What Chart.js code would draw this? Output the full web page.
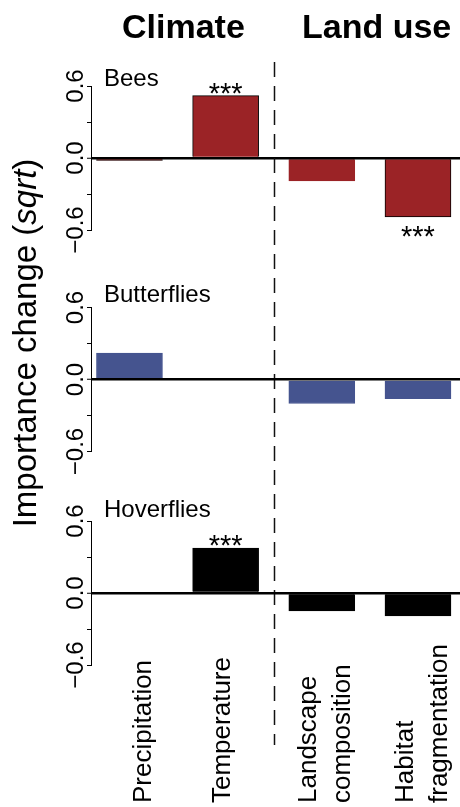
<!DOCTYPE html>
<html>
<head>
<meta charset="utf-8">
<script src="https://cdn.jsdelivr.net/npm/chart.js@4"></script>
<style>
body{margin:0;background:#fff;}
#wrap{position:relative;width:460px;height:807px;overflow:hidden;background:#fff;}
#wrap canvas{position:absolute;left:0;top:0;}
</style>
</head>
<body>
<div id="wrap">
<canvas id="beesChart" width="460" height="807"></canvas>
<canvas id="butterflyChart" width="460" height="807"></canvas>
<canvas id="hoverflyChart" width="460" height="807"></canvas>
</div>
<script>
// 카테고리 / 값
const categories = [["Precipitation"], ["Temperature"], ["Landscape", "composition"], ["Habitat", "fragmentation"]];
const groups = ["Climate", "Land use"];
const tickValues = [-0.6, 0, 0.6];
const tickLabels = ["\u22120.6", "0.0", "0.6"];

const beesValues = [-0.02, 0.52, -0.19, -0.49];
const beesStars = ["", "***", "", "***"];
const butterflyValues = [0.22, 0, -0.20, -0.16];
const butterflyStars = ["", "", "", ""];
const hoverflyValues = [0, 0.375, -0.15, -0.19];
const hoverflyStars = ["", "***", "", ""];

const FONT = '"Liberation Sans", Arial, Helvetica, sans-serif';
const H = 807;
const labelShift = [22, 4, -6, -5];

let isZero = function(c){
    return c.tick && Math.abs(c.tick.value) < 1e-9;
}

// panel name, rotated y tick labels, stars
let panelText = {
    id: "panelText",
    afterDraw: function(chart, args, opts){
        let ctx = chart.ctx;
        let area = chart.chartArea;
        let y = chart.scales.y;
        ctx.save();
        ctx.fillStyle = "#000";
        ctx.textBaseline = "alphabetic";
        ctx.font = "24px " + FONT;
        ctx.textAlign = "left";
        ctx.fillText(opts.name, area.left + 13, area.top + opts.nameShift);

        ctx.font = "24px " + FONT;
        tickValues.forEach(function(v, i){
            ctx.save();
            ctx.translate(area.left - 8, y.getPixelForValue(v));
            ctx.rotate(-Math.PI / 2);
            ctx.textAlign = "center";
            ctx.fillText(tickLabels[i], 0, 0);
            ctx.restore();
        });

        ctx.font = "29px " + FONT;
        ctx.textAlign = "center";
        let bars = chart.getDatasetMeta(0).data;
        opts.stars.forEach(function(s, i){
            if(!s) return;
            let b = bars[i];
            let cy = b.y < b.base ? b.y - 10 : b.y + 12;
            ctx.fillText(s, b.x, cy + 17);
        });
        ctx.restore();
    }
};

// titles, y title, dashed divider
let decor = {
    id: "decor",
    afterDraw: function(chart){
        let ctx = chart.ctx;
        let x = chart.scales.x;
        ctx.save();
        ctx.fillStyle = "#000";
        ctx.textBaseline = "alphabetic";
        ctx.textAlign = "left";
        ctx.font = "bold 34px " + FONT;
        ctx.fillText(groups[0], 122, 38);
        ctx.fillText(groups[1], 302, 38);

        let parts = [["Importance change (", ""], ["sqrt", "italic "], [")", ""]];
        let total = 0;
        parts.forEach(function(p){
            ctx.font = p[1] + "33px " + FONT;
            total += ctx.measureText(p[0]).width;
        });
        ctx.save();
        ctx.translate(36, 343);
        ctx.rotate(-Math.PI / 2);
        let pos = -total / 2;
        parts.forEach(function(p){
            ctx.font = p[1] + "33px " + FONT;
            ctx.fillText(p[0], pos, 0);
            pos += ctx.measureText(p[0]).width;
        });
        ctx.restore();

        let dx = Math.round(x.getPixelForValue(1.5)) + 0.5;
        ctx.strokeStyle = "#111";
        ctx.lineWidth = 1.5;
        ctx.setLineDash([15, 9]);
        ctx.beginPath();
        ctx.moveTo(dx, 62);
        ctx.lineTo(dx, 745);
        ctx.stroke();
        ctx.restore();
    }
};

// category labels under the last panel
let catLabels = {
    id: "catLabels",
    afterDraw: function(chart){
        let ctx = chart.ctx;
        let x = chart.scales.x;
        ctx.save();
        ctx.fillStyle = "#000";
        ctx.font = "26px " + FONT;
        ctx.textAlign = "left";
        ctx.textBaseline = "alphabetic";
        categories.forEach(function(lines, i){
            lines.forEach(function(t, j){
                ctx.save();
                ctx.translate(x.getPixelForValue(i) + labelShift[i] + j * 34, 803);
                ctx.rotate(-Math.PI / 2);
                ctx.fillText(t, 0, 0);
                ctx.restore();
            });
        });
        ctx.restore();
    }
};

let renderPanel = function(component, name, nameShift, values, stars, colors, borders, top, bottom, extra){
    let ctx = document.getElementById(component).getContext("2d");
    return new Chart(ctx, {
        type: "bar",
        data: {
            datasets: [{
                data: values.map(function(v, i){ return {x: i, y: v}; }),
                backgroundColor: colors,
                borderColor: borders,
                borderWidth: 1,
                barThickness: 66
            }]
        },
        options: {
            responsive: false,
            animation: false,
            events: [],
            layout: {padding: {top: top, bottom: H - bottom, left: 87, right: 0}},
            scales: {
                x: {type: "linear", min: -0.4, max: 3.437, offset: false, display: false},
                y: {
                    min: -0.6, max: 0.6,
                    ticks: {display: false, stepSize: 0.3},
                    afterFit: function(s){ s.width = 4; },
                    grid: {
                        z: 1,
                        drawTicks: true,
                        tickLength: 4,
                        tickColor: "#000",
                        tickWidth: 1,
                        color: function(c){ return isZero(c) ? "#000" : "rgba(0,0,0,0)"; },
                        lineWidth: function(c){ return isZero(c) ? 2.5 : 1; }
                    },
                    border: {display: true, color: "#000", width: 1, z: 1}
                }
            },
            plugins: {
                legend: {display: false},
                tooltip: {enabled: false},
                panelText: {name: name, nameShift: nameShift, stars: stars}
            }
        },
        plugins: [panelText].concat(extra)
    });
}

const red = "#9B2326";
const blue = "#45548F";
renderPanel("beesChart", "Bees", 0, beesValues, beesStars, red, ["#000", "#000", red, "#000"], 86, 230, [decor]);
renderPanel("butterflyChart", "Butterflies", -6, butterflyValues, butterflyStars, blue, blue, 307.5, 451.5, []);
renderPanel("hoverflyChart", "Hoverflies", -4, hoverflyValues, hoverflyStars, "#000", "#000", 521, 665, [catLabels]);
</script>
</body>
</html>
